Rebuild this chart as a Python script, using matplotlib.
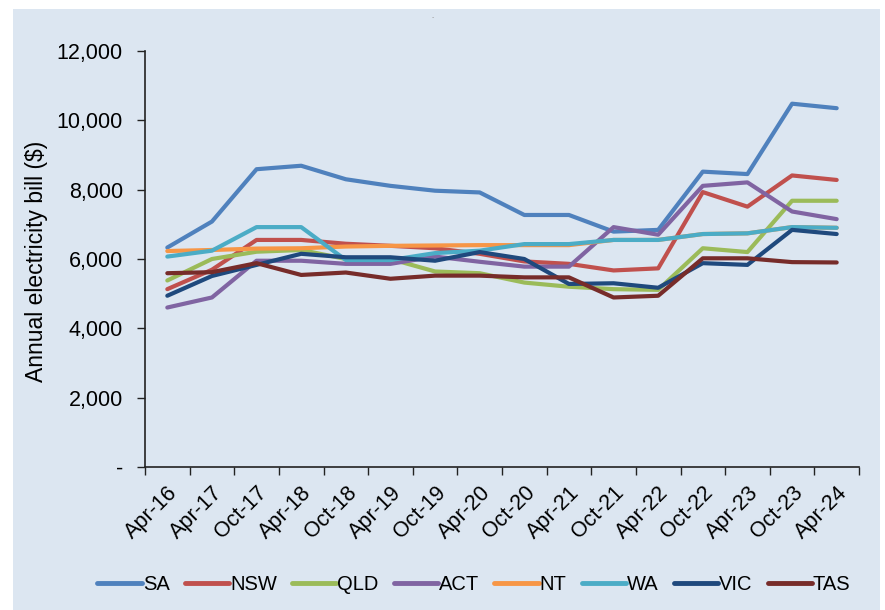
import matplotlib
matplotlib.use('Agg')
from matplotlib import pyplot as plt
from matplotlib.patches import Rectangle
import numpy as np

periods = ['Apr-16', 'Apr-17', 'Oct-17', 'Apr-18', 'Oct-18', 'Apr-19', 'Oct-19', 'Apr-20',
           'Oct-20', 'Apr-21', 'Oct-21', 'Apr-22', 'Oct-22', 'Apr-23', 'Oct-23', 'Apr-24']

sa = [6330, 7080, 8590, 8690, 8300, 8110, 7970, 7920, 7270, 7270, 6790, 6840, 8520, 8450, 10480, 10350]
nsw = [5130, 5690, 6550, 6550, 6440, 6380, 6310, 6150, 5930, 5860, 5670, 5730, 7930, 7510, 8410, 8280]
qld = [5380, 6000, 6210, 6260, 6000, 6000, 5640, 5590, 5320, 5200, 5130, 5110, 6310, 6200, 7680, 7680]
act = [4600, 4890, 5950, 5950, 5860, 5860, 6070, 5920, 5780, 5780, 6920, 6700, 8110, 8210, 7370, 7150]
nt = [6230, 6260, 6300, 6310, 6360, 6380, 6390, 6400, 6400, 6400, 6550, 6550, 6720, 6740, 6920, 6900]
wa = [6070, 6240, 6920, 6920, 5970, 5970, 6170, 6240, 6430, 6430, 6550, 6550, 6720, 6740, 6920, 6900]
vic = [4940, 5510, 5830, 6150, 6050, 6050, 5950, 6200, 6000, 5280, 5300, 5170, 5880, 5830, 6840, 6720]
tas = [5590, 5620, 5880, 5540, 5610, 5430, 5520, 5520, 5470, 5470, 4890, 4940, 6020, 6020, 5910, 5900]

series = [('SA', sa, '#4f81bd'), ('NSW', nsw, '#c0504d'), ('QLD', qld, '#9bbb59'),
          ('ACT', act, '#8064a2'), ('NT', nt, '#f79646'), ('WA', wa, '#4bacc6'),
          ('VIC', vic, '#1f497d'), ('TAS', tas, '#772c2a')]

plt.rcParams['font.family'] = ['Liberation Sans', 'DejaVu Sans']

fig = plt.figure(figsize=(8.85, 6.1), dpi=100)
bg = Rectangle((13 / 885, 0), (880 - 13) / 885, 1 - 9 / 610,
               transform=fig.transFigure, facecolor='#dce6f1', edgecolor='none', zorder=-10)
fig.add_artist(bg)
fig.text(433 / 885, 1 - 18 / 610, '-', fontsize=5, color='#999999', ha='center', va='center')

ax = fig.add_axes([145 / 885, 1 - 467 / 610, (859 - 145) / 885, (467 - 51) / 610])
ax.set_facecolor('none')
ax.set_zorder(2)

x = np.arange(len(periods))
for name, vals, col in series:
    ax.plot(x, vals, color=col, lw=3, label=name, solid_capstyle='round')

ax.set_xlim(-0.5, len(periods) - 0.5)
ax.set_ylim(0, 12000)

# ticks sit between categories, labels at the category centres
ax.set_xticks(np.arange(len(periods) + 1) - 0.5)
ax.set_xticklabels([])
ax.set_xticks(x, minor=True)
ax.set_xticklabels(periods, minor=True, rotation=45, ha='right', rotation_mode='anchor',
                   fontsize=15.5)
ax.tick_params(axis='x', which='minor', length=0, pad=11)
ax.tick_params(axis='x', which='major', length=6, width=1, color='#222222')

yt = np.arange(0, 12001, 2000)
ax.set_yticks(yt)
ax.set_yticklabels(['-' if v == 0 else f'{v:,}' for v in yt], fontsize=15.5)
ax.tick_params(axis='y', length=6, width=1, color='#222222', pad=10)

for s in ['top', 'right']:
    ax.spines[s].set_visible(False)
for s in ['left', 'bottom']:
    ax.spines[s].set_color('#222222')
    ax.spines[s].set_linewidth(1.2)

fig.text(37 / 885, 1 - 261 / 610, 'Annual electricity bill ($)', rotation=90,
         ha='center', va='center', fontsize=16.5)

leg = fig.legend(loc='center', bbox_to_anchor=(474 / 885, 1 - 585 / 610), ncol=8,
                 frameon=False, fontsize=14.5, handlelength=2.2, handletextpad=0.05,
                 columnspacing=0.75)
for h in leg.get_lines():
    h.set_linewidth(3.5)

fig.savefig('out.png', dpi=100)
